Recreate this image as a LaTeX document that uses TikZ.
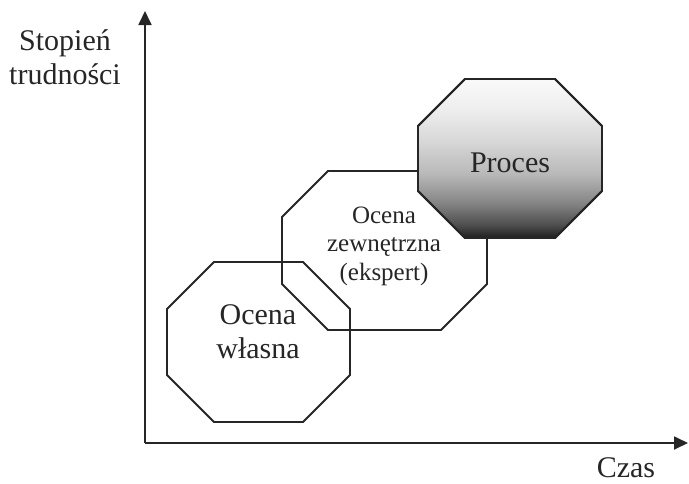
\documentclass[tikz,border=0pt]{standalone}
\usepackage{fontspec}
\setmainfont{Liberation Serif}
\usetikzlibrary{arrows.meta}

% vertical grey ramp for the filled octagon (25bp = bottom of path, 75bp = top)
\pgfdeclareverticalshading{procramp}{100bp}{%
  color(0bp)=(black!88);
  color(25bp)=(black!88);
  color(29bp)=(black!70);
  color(36bp)=(black!48);
  color(45bp)=(black!28);
  color(55bp)=(black!16);
  color(65bp)=(black!7);
  color(75bp)=(black!2);
  color(100bp)=(black!2)}

% octagon from its left/right/top/bottom and the size of the corner cut
\newcommand{\octpath}[5]{%
  (#1+#5,#3) -- (#2-#5,#3) -- (#2,#3+#5) -- (#2,#4-#5) --
  (#2-#5,#4) -- (#1+#5,#4) -- (#1,#4-#5) -- (#1,#3+#5) -- cycle}

\begin{document}
\begin{tikzpicture}[x=1pt,y=-1pt,
    outline/.style={draw=black!85,line width=1.8pt,line join=miter},
    axisline/.style={draw=black!85,line width=1.8pt,
      -{Triangle[length=14pt,width=13pt]}},
    bigtext/.style={font=\fontsize{30}{34}\selectfont,align=center,
      text=black!85,inner sep=0pt},
    smalltext/.style={font=\fontsize{25}{28.5}\selectfont,align=center,
      text=black!85,inner sep=0pt}]
  \useasboundingbox (0,0) rectangle (689,483);

  % axes
  \coordinate (origin) at (145,443);
  \coordinate (ytip) at (145,11);
  \coordinate (xtip) at (688,443);
  \draw[axisline] (origin) -- (ytip);
  \draw[axisline] (origin) -- (xtip);

  % middle and lower octagons (outlines only)
  \draw[outline] \octpath{282}{487}{171}{330}{46};
  \draw[outline] \octpath{167}{350}{262}{422}{47};

  % shaded octagon on top
  \path[outline,shading=procramp] \octpath{418}{602}{79}{238}{47};
  \draw[outline] \octpath{418}{602}{79}{238}{47};

  % labels
  \node[bigtext] (ylabel) at (65,57) {Stopień\\trudności};
  \node[bigtext,anchor=base] (xlabel) at (626,477) {Czas};
  \node[bigtext] (proces) at (510,163) {Proces};
  \node[smalltext] (zewn) at (384,246) {Ocena\\zewnętrzna\\(ekspert)};
  \node[bigtext] (wlasna) at (258,332) {Ocena\\własna};
\end{tikzpicture}
\end{document}
